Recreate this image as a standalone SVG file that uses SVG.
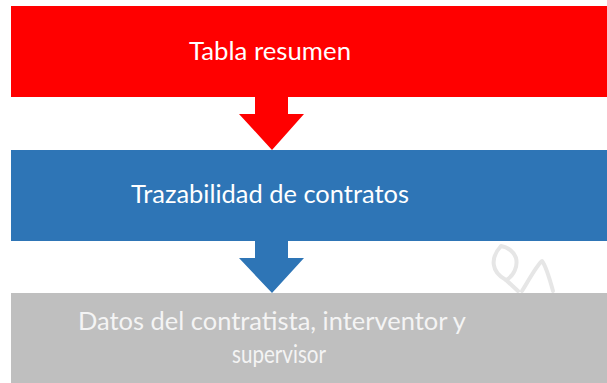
<svg xmlns="http://www.w3.org/2000/svg" width="607" height="383" viewBox="0 0 607 383">
<style>
.lbl{font-family:Lato,"Open Sans","Noto Sans",sans-serif;font-size:25px;text-anchor:middle}
.w{fill:#FFFFFF}
.g{fill:#F4F4F4}
</style>
<rect width="607" height="383" fill="#FFFFFF"/>
<g id="watermark" fill="none" stroke="#E6E6E6" stroke-width="4" stroke-linecap="round" stroke-linejoin="round">
<path d="M501,246 C490,258 491,272 506,280 C514,276 518,266 516,258 C514,252 508,247 501,246 Z"/>
<path d="M506,280 L518,291"/>
<path d="M522,291 C530,278 537,265 542,261 C546,266 550,280 553,291"/>
</g>
<g id="connectors">
<polygon id="arrow1" points="255,97 288,97 288,114 304,114 272,150 239,114 255,114" fill="#FF0000"/>
<polygon id="arrow2" points="255,241 288,241 288,258 304,258 272,293 239,258 255,258" fill="#2E75B6"/>
</g>
<g id="node1">
<rect x="11" y="6" width="596" height="91" fill="#FF0000"/>
<text class="lbl w" x="270" y="60" textLength="162" lengthAdjust="spacingAndGlyphs">Tabla resumen</text>
</g>
<g id="node2">
<rect x="11" y="150" width="596" height="91" fill="#2E75B6"/>
<text class="lbl w" x="270" y="203" textLength="278" lengthAdjust="spacingAndGlyphs">Trazabilidad de contratos</text>
</g>
<g id="node3">
<rect x="11" y="293" width="596" height="90" fill="#BFBFBF"/>
<text class="lbl g" x="272" y="330" textLength="388" lengthAdjust="spacingAndGlyphs">Datos del contratista, interventor y</text>
<text class="lbl g" x="279" y="363" textLength="94" lengthAdjust="spacingAndGlyphs">supervisor</text>
</g>
</svg>
